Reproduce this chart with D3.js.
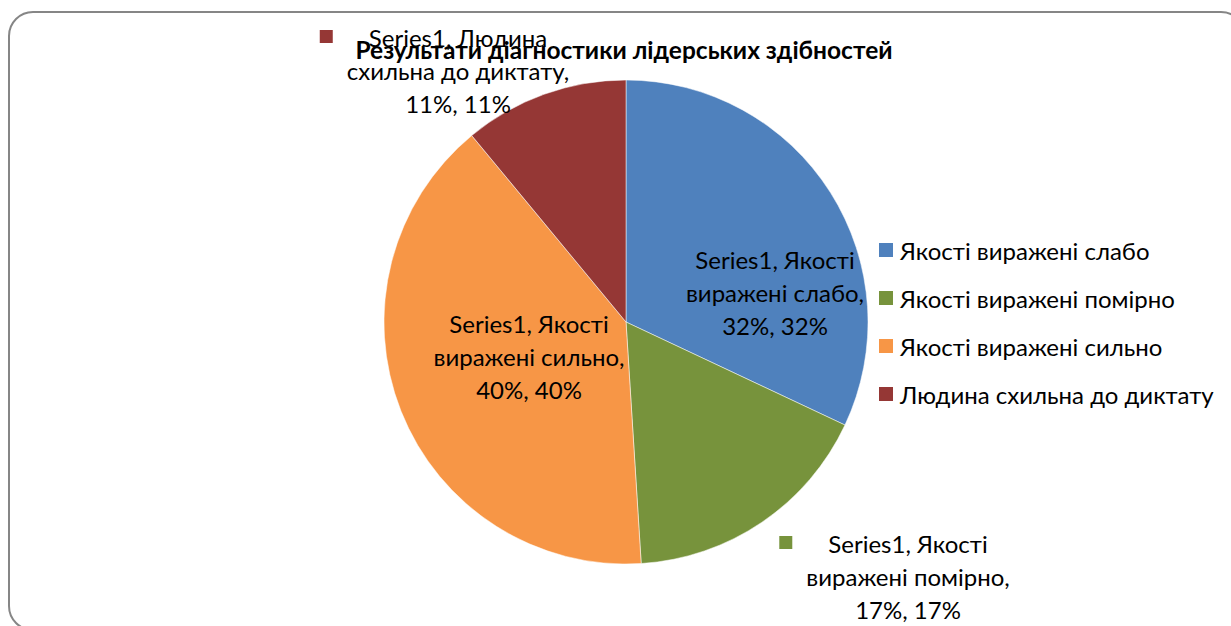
<!DOCTYPE html>
<html>
<head>
<meta charset="utf-8">
<script src="https://cdn.jsdelivr.net/npm/d3@7"></script>
<style>
  body { margin: 0; background: #fff; }
  svg text { font-family: Lato, "Open Sans", sans-serif; fill: #000; }
</style>
</head>
<body>
<div id="chart"></div>
<script>
// data
var seriesName = "Series1";
var categories = ["Якості виражені слабо", "Якості виражені помірно", "Якості виражені сильно", "Людина схильна до диктату"];
var values = [32, 17, 40, 11];
var colors = ["#4F81BD", "#77933C", "#F79646", "#953735"];
var title = "Результати діагностики лідерських здібностей";

var width = 1231, height = 626;
var cx = 626, cy = 322, radius = 242;

// label layout (offset from pie centre to first line), outside labels get a colour key
var labelLayout = [
  {dx: 149, dy: -63, key: false},
  {dx: 282, dy: 221, key: true},
  {dx: -97, dy: 1, key: false},
  {dx: -168, dy: -285, key: true}
];
var lineH = 33;

var svg = d3.select("#chart").append("svg")
    .attr("width", width)
    .attr("height", height);

// outer frame
svg.append("rect")
    .attr("x", 9).attr("y", 12)
    .attr("width", 1236).attr("height", 618)
    .attr("rx", 24).attr("ry", 24)
    .attr("fill", "none")
    .attr("stroke", "#868686")
    .attr("stroke-width", 2);

var color = d3.scaleOrdinal().domain(categories).range(colors);
var total = d3.sum(values);

var data = categories.map(function(c, i) { return {name: c, value: values[i]}; });

var pie = d3.pie()
    .sort(null)
    .value(function(d) { return d.value; });

var arc = d3.arc()
    .innerRadius(0)
    .outerRadius(radius);

var g = svg.append("g")
    .attr("transform", "translate(" + cx + "," + cy + ")");

g.selectAll("path")
    .data(pie(data))
  .enter().append("path")
    .attr("d", arc)
    .attr("fill", function(d) { return color(d.data.name); })
    .attr("stroke", "#fff")
    .attr("stroke-width", 0.5);

// data labels
function labelLines(d) {
  var words = d.name.split(" ");
  var pct = Math.round(d.value / total * 100) + "%";
  return [seriesName + ", " + words[0], words.slice(1).join(" ") + ",", pct + ", " + pct];
}

data.forEach(function(d, i) {
  var lay = labelLayout[i];
  var lg = g.append("g").attr("class", "label")
      .attr("transform", "translate(" + lay.dx + "," + lay.dy + ")");
  var t = lg.selectAll("text")
      .data(labelLines(d))
    .enter().append("text")
      .attr("x", 0)
      .attr("y", function(l, j) { return j * lineH; })
      .attr("text-anchor", "middle")
      .attr("dominant-baseline", "central")
      .style("font-size", "24px")
      .text(function(l) { return l; });
  if (lay.key) {
    var maxW = d3.max(t.nodes(), function(n) { return n.getComputedTextLength(); });
    lg.append("rect")
      .attr("x", -maxW / 2 - 27)
      .attr("y", -7)
      .attr("width", 13).attr("height", 13)
      .attr("fill", color(d.name));
  }
});

// legend
var legend = svg.selectAll(".legend")
    .data(categories)
  .enter().append("g")
    .attr("class", "legend")
    .attr("transform", function(d, i) { return "translate(879," + (250 + i * 48) + ")"; });

legend.append("rect")
    .attr("x", 0).attr("y", -7)
    .attr("width", 14).attr("height", 14)
    .attr("fill", function(d) { return color(d); });

legend.append("text")
    .attr("x", 21)
    .attr("y", 0)
    .attr("dominant-baseline", "central")
    .style("font-size", "24px")
    .text(function(d) { return d; });

// title on top
svg.append("text")
    .attr("x", 624)
    .attr("y", 49)
    .attr("text-anchor", "middle")
    .attr("dominant-baseline", "central")
    .style("font-size", "24.5px")
    .style("font-weight", "bold")
    .text(title);
</script>
</body>
</html>
